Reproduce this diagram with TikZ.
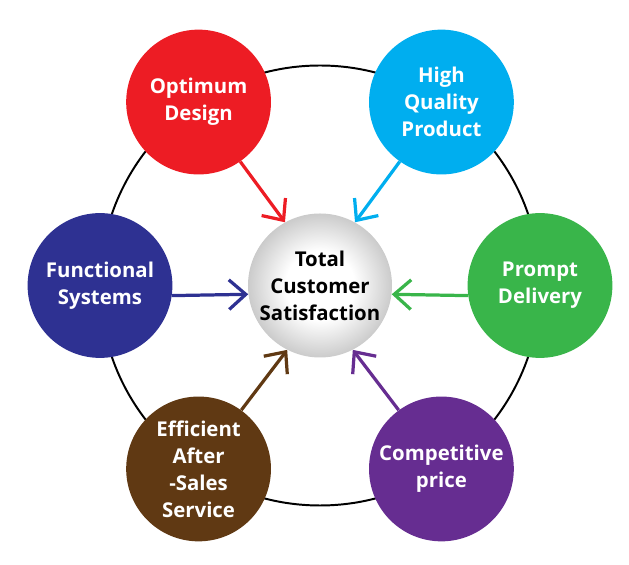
\documentclass[tikz,border=0pt]{standalone}
\usepackage{fontspec}
\setmainfont{Open Sans}
\usetikzlibrary{arrows.meta}
\definecolor{factred}{RGB}{237,28,36}
\definecolor{factcyan}{RGB}{0,174,239}
\definecolor{factblue}{RGB}{46,49,146}
\definecolor{factgreen}{RGB}{57,181,74}
\definecolor{factbrown}{RGB}{96,57,19}
\definecolor{factpurple}{RGB}{102,45,145}
\pgfdeclareradialshading{sphere}{\pgfpoint{0bp}{0bp}}{color(0bp)=(white); color(12bp)=(white); color(42bp)=(black!47); color(50bp)=(black!60)}
\tikzset{
 factor/.style={circle,inner sep=0pt,minimum size=3.62cm,align=center,text=white,font=\bfseries\fontsize{14.5}{19.2}\selectfont},
 core/.style={circle,inner sep=0pt,minimum size=3.6cm,align=center,shading=sphere,font=\bfseries\fontsize{14.5}{19.2}\selectfont},
 link/.style={-{Straight Barb[length=4.2mm,width=7.4mm]},line width=2.3pt}}

\begin{document}
\begin{tikzpicture}
\useasboundingbox (-8,-6.9875) rectangle (7.725,7.1375);
\coordinate (hub) at (0,0);
\draw[line width=1.4pt] (hub) circle (5.5cm);
\node[core] (tcs) at (hub) {Total\\Customer\\Satisfaction};
\node[factor,fill=factred] (od) at (123.5:5.5) {Optimum\\Design};
\node[factor,fill=factcyan] (hq) at (56.5:5.5) {High\\Quality\\Product};
\node[factor,fill=factblue] (fs) at (180:5.5) {Functional\\Systems};
\node[factor,fill=factgreen] (pd) at (0:5.5) {Prompt\\Delivery};
\node[factor,fill=factbrown] (ea) at (-123.5:5.5) {Efficient\\After\\-Sales\\Service};
\node[factor,fill=factpurple] (cp) at (-56.5:5.5) {Competitive\\price};
\draw[link,factred] (od.-55) -- (tcs.119);
\draw[link,factcyan] (hq.-125) -- (tcs.61);
\draw[link,factblue] (fs.-8) -- (tcs.187);
\draw[link,factgreen] (pd.188) -- (tcs.-7);
\draw[link,factbrown] (ea.54) -- (tcs.-117);
\draw[link,factpurple] (cp.126) -- (tcs.-63);
\end{tikzpicture}
\end{document}
